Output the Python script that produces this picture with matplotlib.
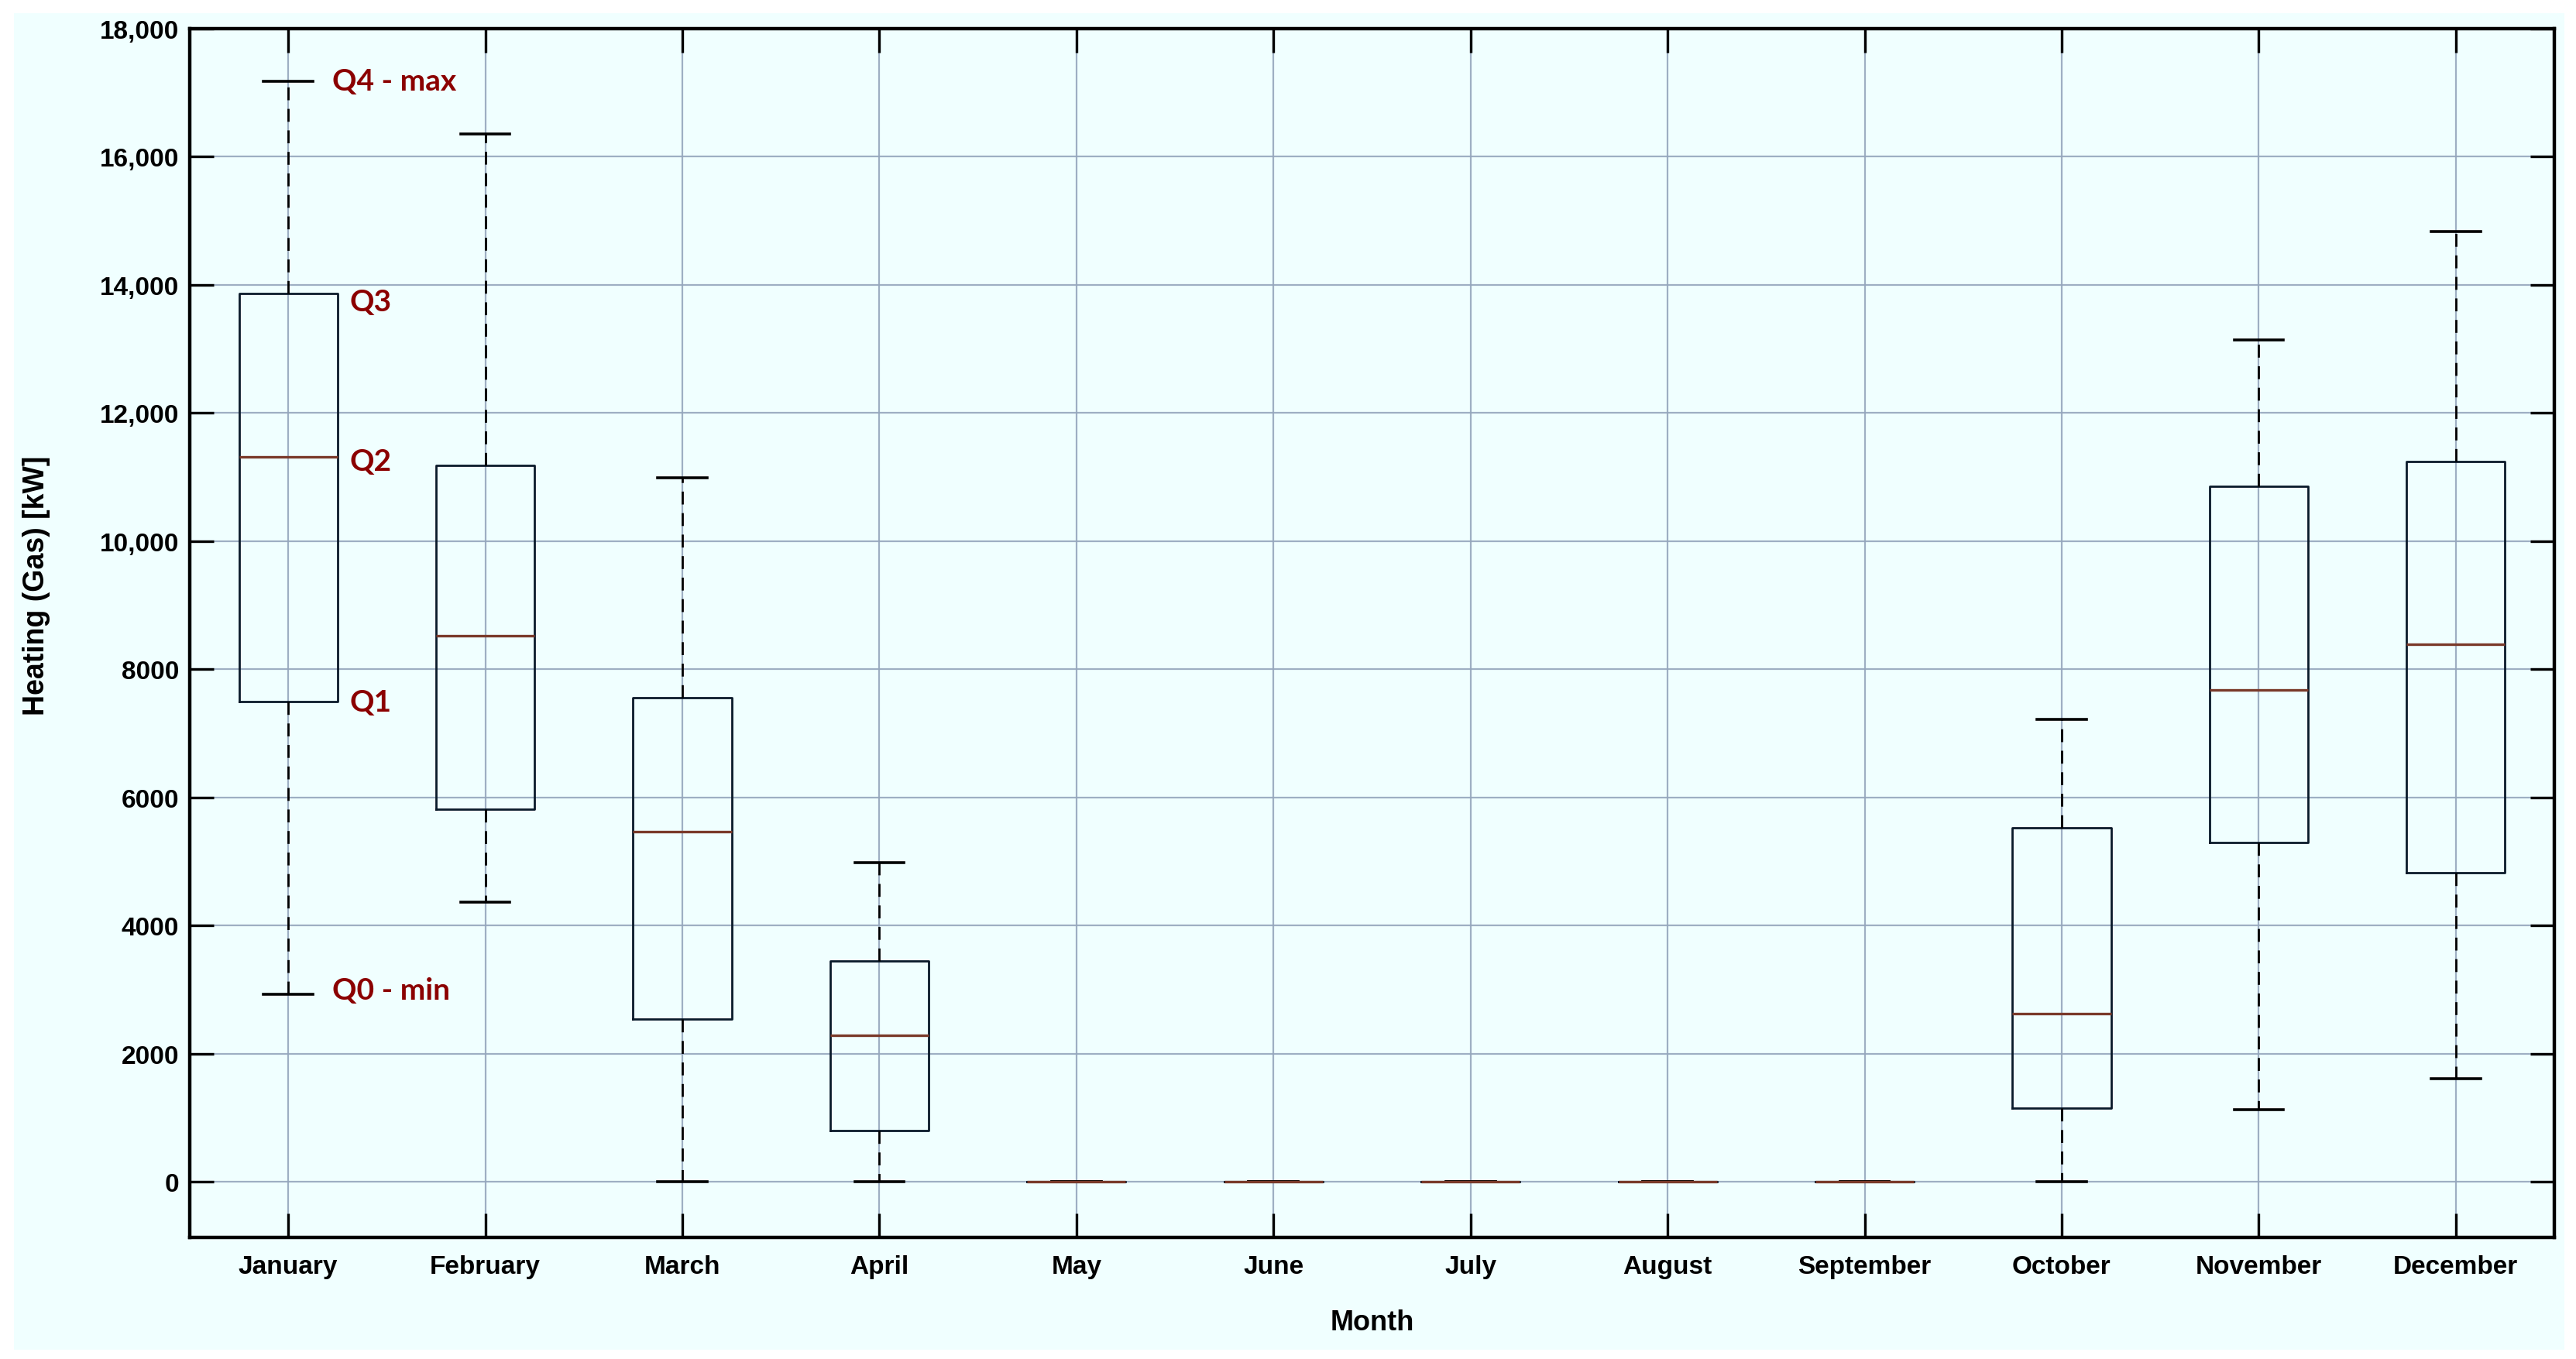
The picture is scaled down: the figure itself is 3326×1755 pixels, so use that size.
import matplotlib
matplotlib.use("Agg")
import matplotlib.pyplot as plt
from matplotlib.patches import Rectangle
from matplotlib.ticker import FuncFormatter, MultipleLocator

# valeurs (kW)
months = ["January", "February", "March", "April", "May", "June", "July",
          "August", "September", "October", "November", "December"]
q0_min = [2920, 4360, 0, 0, 0, 0, 0, 0, 0, 0, 1130, 1610]
q1 = [7490, 5810, 2540, 800, 0, 0, 0, 0, 0, 1150, 5300, 4820]
q2_med = [11320, 8520, 5460, 2290, 0, 0, 0, 0, 0, 2620, 7680, 8390]
q3 = [13860, 11180, 7560, 3440, 0, 0, 0, 0, 0, 5520, 10850, 11240]
q4_max = [17180, 16360, 10990, 4980, 0, 0, 0, 0, 0, 7220, 13140, 14830]

BG = "#f0ffff"
plt.rcParams.update({"font.family": ["Liberation Sans", "DejaVu Sans"],
                     "font.weight": "bold"})

stats = [{"label": m, "whislo": lo, "q1": a, "med": md, "q3": b, "whishi": hi}
         for m, lo, a, md, b, hi in zip(months, q0_min, q1, q2_med, q3, q4_max)]

fig = plt.figure(figsize=(33.26, 17.56), dpi=100, facecolor="white")
fig.patches.append(Rectangle((18 / 3326, 12 / 1756), (3311 - 18) / 3326,
                             (1744 - 18) / 1756, transform=fig.transFigure,
                             facecolor=BG, edgecolor="none", zorder=-10))
ax = fig.add_axes([245 / 3326, 1 - 1599 / 1756, (3298 - 245) / 3326,
                   (1599 - 38) / 1756])
ax.set_facecolor(BG)

ax.bxp(stats, positions=range(1, 13), widths=0.5, showfliers=False,
       boxprops=dict(color="#0a1a2a", lw=2.0),
       whiskerprops=dict(color="black", lw=2.0, ls=(0, (6, 4))),
       capprops=dict(color="black", lw=2.6),
       medianprops=dict(color="#7a3a2a", lw=2.4))

ax.set_xlim(0.5, 12.5)
ax.set_ylim(-870, 18000)
ax.yaxis.set_major_locator(MultipleLocator(2000))
ax.yaxis.set_major_formatter(FuncFormatter(
    lambda v, p: f"{int(v):,}" if v >= 10000 else f"{int(v)}"))
ax.grid(True, color="#95a7bd", lw=1.6, alpha=0.9)
ax.set_axisbelow(True)
for s in ax.spines.values():
    s.set_linewidth(3.2)
ax.tick_params(axis="both", direction="in", length=22, width=2.4,
               labelsize=24, top=True, right=True)
ax.tick_params(axis="y", pad=10)
ax.tick_params(axis="x", pad=16)

ax.set_xlabel("Month", fontsize=26, fontweight="bold", labelpad=28)
ax.set_ylabel("Heating (Gas) [kW]", fontsize=27, fontweight="bold")
ax.yaxis.set_label_coords(-0.059, 0.54)

# annotations des quartiles sur janvier
red = "#8b0000"
kw = dict(color=red, fontsize=28, fontweight="bold", family=["Lato", "DejaVu Sans"],
          va="center", ha="left")
ax.text(1.225, q4_max[0], "Q4 - max", **kw)
ax.text(1.31, q3[0] - 120, "Q3", **kw)
ax.text(1.31, q2_med[0] - 70, "Q2", **kw)
ax.text(1.31, q1[0], "Q1", **kw)
ax.text(1.225, q0_min[0] + 70, "Q0 - min", **kw)

fig.savefig("out.png", dpi=100, facecolor="white")
plt.close(fig)
